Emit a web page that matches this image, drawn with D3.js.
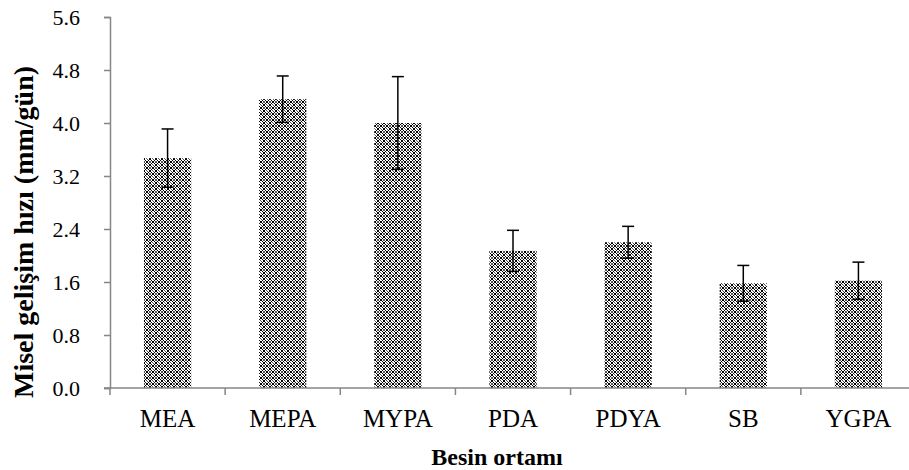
<!DOCTYPE html>
<html>
<head>
<meta charset="utf-8">
<script src="https://cdn.jsdelivr.net/npm/d3@7/dist/d3.min.js"></script>
<style>
  html, body { margin: 0; padding: 0; background: #fff; }
  svg { display: block; }
</style>
</head>
<body>
<svg id="chart" width="909" height="470"></svg>
<script>
// Mycelial growth rate per medium (mm/day) with standard deviations
const media = ["MEA", "MEPA", "MYPA", "PDA", "PDYA", "SB", "YGPA"];
const growthRate = [3.47, 4.36, 4.00, 2.07, 2.20, 1.58, 1.62];
const growthSd = [0.44, 0.35, 0.70, 0.31, 0.24, 0.27, 0.28];
const yTicks = [0.0, 0.8, 1.6, 2.4, 3.2, 4.0, 4.8, 5.6];

const SERIF = "'Liberation Serif', 'Times New Roman', serif";
const svg = d3.select("#chart");
const plot = { left: 110, right: 916, top: 17, bottom: 388 };

const x = d3.scaleBand().domain(media).range([plot.left, plot.right]).padding(0);
const y = d3.scaleLinear().domain([0, 5.6]).range([plot.bottom, plot.top]);

// Lattice fill for the bars
const defs = svg.append("defs");
const pat = defs.append("pattern")
  .attr("id", "lattice")
  .attr("patternUnits", "userSpaceOnUse")
  .attr("width", 6).attr("height", 6);
pat.append("rect").attr("width", 6).attr("height", 6).attr("fill", "#fff");
const dark = [[2,0],[3,0],[1,1],[4,1],[0,2],[5,2],[0,3],[5,3],[1,4],[4,4],[2,5],[3,5]];
const mid = [[0,0],[5,0],[0,5],[5,5],[2,2],[3,3]];
dark.forEach(([i, j]) => pat.append("rect").attr("x", i).attr("y", j).attr("width", 1).attr("height", 1).attr("fill", "#000"));
mid.forEach(([i, j]) => pat.append("rect").attr("x", i).attr("y", j).attr("width", 1).attr("height", 1).attr("fill", "#555"));

const barW = x.bandwidth() * 0.41;

// Bars
svg.append("g").selectAll("rect")
  .data(media)
  .join("rect")
  .attr("x", (d) => x(d) + (x.bandwidth() - barW) / 2)
  .attr("y", (d, i) => y(growthRate[i]))
  .attr("width", barW)
  .attr("height", (d, i) => y(0) - y(growthRate[i]))
  .attr("fill", "url(#lattice)");

// Error bars
const eb = svg.append("g").attr("stroke", "#000").attr("stroke-width", 1.5);
media.forEach((m, i) => {
  const cx = x(m) + x.bandwidth() / 2;
  const lo = y(growthRate[i] - growthSd[i]);
  const hi = y(growthRate[i] + growthSd[i]);
  eb.append("line").attr("x1", cx).attr("x2", cx).attr("y1", lo).attr("y2", hi);
  eb.append("line").attr("x1", cx - 6).attr("x2", cx + 6).attr("y1", hi).attr("y2", hi);
  eb.append("line").attr("x1", cx - 6).attr("x2", cx + 6).attr("y1", lo).attr("y2", lo);
});

// Y axis
const yAxis = svg.append("g")
  .attr("transform", `translate(${plot.left},0)`)
  .call(d3.axisLeft(y).tickValues(yTicks).tickSize(6).tickPadding(24).tickFormat(d3.format(".1f")));
yAxis.attr("font-family", null).attr("font-size", null);
yAxis.select(".domain").attr("stroke", "#868686").attr("stroke-width", 1.5);
yAxis.selectAll(".tick line").attr("stroke", "#868686").attr("stroke-width", 1.5);
yAxis.selectAll(".tick text")
  .style("font-family", SERIF).style("font-size", "22px").attr("fill", "#000");

// X axis with ticks at band boundaries
const xg = svg.append("g").attr("transform", `translate(0,${plot.bottom})`);
xg.append("line").attr("x1", plot.left - 6).attr("x2", plot.right).attr("stroke", "#868686").attr("stroke-width", 1.5);
const bounds = media.map((m) => x(m)).concat([plot.right]);
xg.selectAll(".bt").data(bounds).join("line")
  .attr("x1", (d) => d).attr("x2", (d) => d).attr("y1", 0).attr("y2", 7)
  .attr("stroke", "#868686").attr("stroke-width", 1.5);
xg.selectAll(".lbl").data(media).join("text")
  .attr("x", (d) => x(d) + x.bandwidth() / 2)
  .attr("y", 39)
  .attr("text-anchor", "middle")
  .style("font-family", SERIF).style("font-size", "25px")
  .text((d) => d);

// Axis titles
svg.append("text")
  .attr("x", 497).attr("y", 465)
  .attr("text-anchor", "middle")
  .style("font-family", SERIF).style("font-size", "24px").style("font-weight", "bold")
  .text("Besin ortamı");

svg.append("text")
  .attr("transform", "translate(33,232) rotate(-90)")
  .attr("text-anchor", "middle")
  .style("font-family", SERIF).style("font-size", "28px").style("font-weight", "bold")
  .text("Misel gelişim hızı (mm/gün)");
</script>
</body>
</html>
